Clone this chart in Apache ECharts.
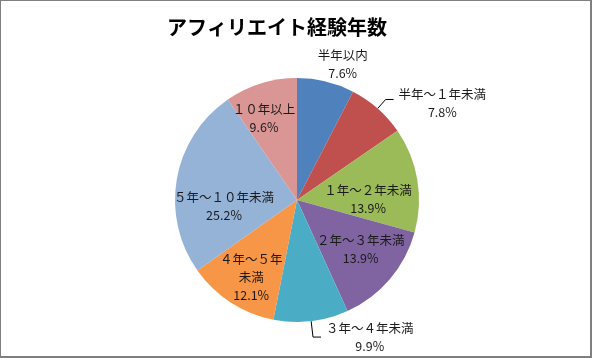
<!DOCTYPE html>
<html><head><meta charset="utf-8">
<script src="https://cdn.jsdelivr.net/npm/echarts@6/dist/echarts.min.js"></script>
<style>
html,body{margin:0;padding:0;background:#fff;}
#wrap{position:relative;width:592px;height:358px;}
#c{position:absolute;left:0;top:0;width:592px;height:358px;}
#frame{position:absolute;left:0;top:0;width:589px;height:355px;border-left:1px solid #7f7f7f;border-top:1px solid #7f7f7f;border-right:2px solid #7f7f7f;border-bottom:2px solid #7f7f7f;pointer-events:none;}
</style></head>
<body><div id="wrap"><div id="c"></div><div id="frame"></div></div>
<script>
const title = 'アフィリエイト経験年数';
const categories = ['半年以内','半年～１年未満','１年～２年未満','２年～３年未満','３年～４年未満','４年～５年未満','５年～１０年未満','１０年以上'];
const labelTexts = ['半年以内','半年～１年未満','１年～２年未満','２年～３年未満','３年～４年未満','４年～５年\n未満','５年～１０年未満','１０年以上'];
const values = [7.6, 7.8, 13.9, 13.9, 9.9, 12.1, 25.2, 9.6];
const colors = ['#4F81BD','#C0504D','#9BBB59','#8064A2','#4BACC6','#F79646','#95B3D7','#D99694'];

// label placement styling (per slice)
const labelPos = ['outside','outside','inside','inside','outside','inside','inside','inside'];
const labelOffsets = [[-24,-6],[0,0],[8,10],[15,8],[0,0],[-11,24],[-10,17],[-14,-21]];
const labelPadTop = [0,8,0,0,0,0,0,0];
const showLines = [false,true,false,false,true,false,false,false];
const lineLen = [12,12,12,12,16,12,12,12];
const lineLen2 = [8,8,8,8,8,8,8,8];

const FS = 12.5, LH = 18;
const chart = echarts.init(document.getElementById('c'), null, {renderer:'canvas'});
const font = '"Noto Sans CJK JP", "Noto Sans", sans-serif';
const data = categories.map((name, i) => {
  const pct = values[i].toFixed(1) + '%';
  const outside = labelPos[i] === 'outside';
  const w = labelTexts[i].length * FS;
  return {
    name: name,
    value: values[i],
    itemStyle: {color: colors[i]},
    label: outside ? {
      position: 'outside',
      offset: labelOffsets[i],
      padding: [labelPadTop[i], 0, 0, 0],
      formatter: '{a|' + labelTexts[i] + '}\n{a|' + pct + '}',
      rich: {a: {width: w, align: 'center', fontFamily: font, fontSize: FS, lineHeight: LH, color: '#1a1a1a'}}
    } : {
      position: 'inside',
      offset: labelOffsets[i],
      formatter: labelTexts[i] + '\n' + pct
    },
    labelLine: {show: showLines[i], length: lineLen[i], length2: lineLen2[i], lineStyle: {color: '#000', width: 1}}
  };
});

chart.setOption({
  animation: false,
  title: {
    text: title, left: 162, top: 12,
    textStyle: {fontFamily: font, fontSize: 20, fontWeight: 'bold', color: '#000'}
  },
  series: [{
    type: 'pie',
    center: [297, 200],
    radius: 122,
    startAngle: 90,
    clockwise: true,
    avoidLabelOverlap: false,
    itemStyle: {borderWidth: 0},
    label: {
      show: true, fontFamily: font, fontSize: FS, color: '#1a1a1a', lineHeight: LH
    },
    data: data
  }]
});
</script></body></html>
